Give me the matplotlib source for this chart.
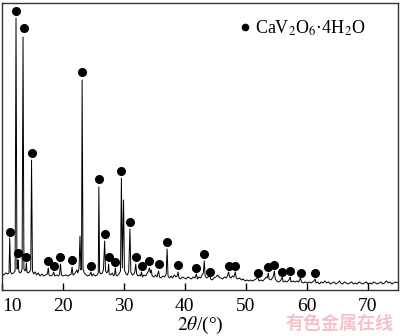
import matplotlib
matplotlib.use("Agg")
import matplotlib.pyplot as plt
from matplotlib.lines import Line2D

plt.rcParams['font.family'] = ['Liberation Serif', 'DejaVu Serif']
plt.rcParams['mathtext.fontset'] = 'stix'

# XRD pattern: (2theta, intensity in arbitrary units)
pattern = [
    (10.0, 16), (10.3, 15), (10.6, 17), (10.9, 16), (11.15, 17), (11.27, 52), (11.4, 18),
    (11.6, 16), (11.9, 17), (12.15, 19), (12.3, 272), (12.45, 21), (12.58, 22), (12.65, 30),
    (12.75, 19), (12.95, 17), (13.15, 18), (13.3, 21), (13.45, 253), (13.6, 21), (13.8, 19),
    (13.9, 20), (14.0, 27), (14.1, 18), (14.35, 17), (14.6, 19), (14.72, 21), (14.85, 130),
    (15.0, 19), (15.2, 16), (15.45, 18), (15.7, 15), (15.95, 17), (16.25, 14), (16.55, 16),
    (16.85, 14), (17.15, 15), (17.45, 16), (17.6, 22), (17.72, 15), (17.95, 14), (18.3, 15),
    (18.5, 18), (18.65, 14), (18.95, 15), (19.3, 14), (19.45, 16), (19.6, 26), (19.75, 15),
    (20.0, 14), (20.4, 15), (20.8, 14), (21.1, 15), (21.35, 16), (21.5, 23), (21.65, 15),
    (21.9, 16), (22.1, 18), (22.3, 20), (22.45, 17), (22.65, 22), (22.8, 54), (22.95, 20),
    (23.05, 22), (23.15, 210), (23.3, 21), (23.5, 17), (23.8, 15), (24.1, 14), (24.4, 15),
    (24.6, 18), (24.75, 14), (25.0, 16), (25.3, 14), (25.6, 15), (25.8, 17), (25.9, 103),
    (26.02, 18), (26.2, 16), (26.45, 17), (26.65, 20), (26.85, 49), (27.0, 19), (27.2, 17),
    (27.4, 19), (27.5, 26), (27.6, 16), (27.85, 15), (28.1, 17), (28.3, 14), (28.5, 16),
    (28.6, 22), (28.72, 15), (28.9, 14), (29.2, 16), (29.45, 19), (29.6, 112), (29.75, 22),
    (29.95, 90), (30.1, 20), (30.35, 16), (30.6, 15), (30.8, 19), (31.0, 61), (31.15, 18),
    (31.4, 15), (31.65, 16), (31.8, 18), (31.95, 26), (32.1, 16), (32.35, 14), (32.6, 15),
    (32.75, 14), (32.9, 18), (33.05, 13), (33.3, 15), (33.6, 14), (33.85, 17), (34.05, 19),
    (34.2, 22), (34.35, 17), (34.5, 20), (34.65, 14), (34.95, 13), (35.2, 15), (35.45, 13),
    (35.7, 19), (35.85, 13), (36.1, 12), (36.4, 14), (36.7, 13), (36.95, 16), (37.1, 41),
    (37.25, 14), (37.5, 12), (37.75, 14), (38.0, 12), (38.3, 15), (38.55, 13), (38.75, 14),
    (38.9, 18), (39.05, 12), (39.3, 11), (39.6, 13), (39.9, 12), (40.2, 11), (40.5, 13),
    (40.8, 12), (41.1, 11), (41.4, 13), (41.7, 12), (41.9, 16), (42.1, 11), (42.35, 13),
    (42.6, 12), (42.85, 15), (43.05, 17), (43.2, 29), (43.35, 14), (43.6, 12), (43.85, 13),
    (44.1, 15), (44.25, 11), (44.5, 10), (44.8, 12), (45.1, 13), (45.4, 15), (45.6, 13),
    (45.9, 12), (46.2, 11), (46.5, 13), (46.8, 12), (47.0, 14), (47.2, 18), (47.35, 13),
    (47.6, 12), (47.8, 14), (48.05, 13), (48.3, 18), (48.45, 12), (48.7, 11), (49.0, 12),
    (49.3, 10), (49.6, 11), (49.9, 9), (50.2, 10), (50.5, 9), (50.8, 10), (51.1, 9),
    (51.4, 10), (51.7, 11), (52.0, 13), (52.2, 9), (52.5, 10), (52.8, 9), (53.1, 11),
    (53.4, 13), (53.55, 12), (53.7, 17), (53.85, 11), (54.1, 10), (54.4, 12), (54.55, 14),
    (54.7, 19), (54.85, 11), (55.1, 9), (55.4, 8), (55.7, 9), (56.0, 13), (56.15, 8),
    (56.5, 9), (56.8, 8), (57.1, 10), (57.3, 13), (57.45, 8), (57.8, 9), (58.1, 8),
    (58.4, 9), (58.7, 8), (59.0, 12), (59.15, 8), (59.5, 7), (59.8, 8), (60.1, 7),
    (60.4, 8), (60.7, 7), (61.0, 8), (61.2, 9), (61.4, 11), (61.55, 7), (61.8, 8),
    (62.1, 6), (62.4, 8), (62.7, 7), (63.0, 9), (63.3, 7), (63.6, 8), (63.9, 6), (64.2, 7),
    (64.5, 8), (64.8, 6), (65.1, 7), (65.4, 9), (65.6, 7), (65.9, 6), (66.2, 8), (66.5, 7),
    (66.8, 6), (67.1, 7), (67.4, 8), (67.7, 6), (68.0, 7), (68.3, 6), (68.6, 8), (68.9, 7),
    (69.2, 6), (69.5, 7), (69.8, 8), (70.1, 6), (70.4, 7), (70.7, 6), (71.0, 8), (71.3, 7),
    (71.6, 6), (71.9, 7), (72.2, 8), (72.5, 6), (72.8, 7), (73.1, 9), (73.4, 7), (73.7, 8),
    (74.0, 6), (74.3, 7), (74.6, 8), (75.0, 7),
]
two_theta = [p[0] for p in pattern]
intensity = [p[1] for p in pattern]

# Peak markers for CaV2O6·4H2O
dot_x = [11.27, 12.3, 12.7, 13.55, 14.0, 14.9, 17.6, 18.5, 19.6, 21.5, 23.2, 24.6, 25.9,
         26.85, 27.5, 28.6, 29.6, 31.0, 31.95, 32.9, 34.2, 35.7, 37.1, 38.9, 41.9, 43.2,
         44.1, 47.2, 48.3, 52.0, 53.7, 54.7, 56.0, 57.3, 59.0, 61.4]
dot_y = [58, 279, 37, 262, 33, 137, 29, 24, 33, 30, 218, 24, 111, 56, 33, 28, 119, 68, 33,
         24, 29, 26, 48, 25, 22, 36, 18, 24, 24, 17, 23, 25, 18, 19, 17, 17]

x_ticks = [10, 20, 30, 40, 50, 60, 70]
legend_label = r'CaV$_2$O$_6$·4H$_2$O'

fig = plt.figure(figsize=(4.0, 3.36), dpi=100)
ax = fig.add_axes([0.005, 0.137, 0.99, 0.854])

ax.plot(two_theta, intensity, color='black', lw=0.7)
ax.plot(dot_x, dot_y, 'o', color='black', ms=5.5, ls='none')

ax.set_xlim(10, 75)
ax.set_ylim(0, 287)
ax.set_xticks(x_ticks)
ax.set_yticks([])
ax.tick_params(axis='x', direction='in', length=5, width=1, labelsize=14, pad=6)
tl = ax.get_xticklabels()
tl[0].set_horizontalalignment('left')
for s in ax.spines.values():
    s.set_linewidth(1.0)
    s.set_color('#333333')

ax.set_xlabel(r'$\mathit{2\theta}$/(°)', fontsize=14, labelpad=0)

handle = Line2D([], [], marker='o', color='black', ls='none', ms=4.5)
ax.legend([handle], [legend_label], loc='upper right', frameon=False, fontsize=13,
          handletextpad=0.05, borderaxespad=0.2, handlelength=1.0,
          bbox_to_anchor=(0.945, 0.985))

fig.text(0.985, 0.01, '有色金属在线', color='#f4c2c8', fontsize=13, ha='right', va='bottom',
         family=['Noto Sans CJK SC'], fontweight='bold')

fig.savefig('out.png', dpi=100)
